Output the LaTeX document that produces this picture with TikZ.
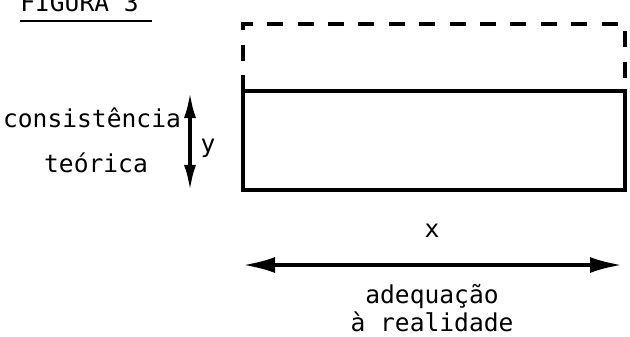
\documentclass[tikz,border=0pt]{standalone}
\usepackage{fontspec}
\setmonofont{DejaVu Sans Mono}
\usetikzlibrary{arrows.meta,positioning}

\begin{document}
\begin{tikzpicture}[x=0.025cm,y=-0.025cm,
  lbl/.style={font=\ttfamily\fontsize{17.5}{22}\selectfont,inner sep=0pt},
  frame/.style={line width=2.6pt},
  dim/.style={line width=2.6pt,{Latex[length=0.8cm,width=0.4cm]}-{Latex[length=0.8cm,width=0.4cm]}}]
\useasboundingbox (0,0) rectangle (630,336);
% title
\node[lbl,anchor=base west] (fig) at (20,11) {FIGURA 3};
\draw[line width=2pt] (20,21) -- (152,21);
% rectangles
\draw[frame,dash pattern=on 0.4cm off 0.36cm] (243,91) -- (243,24) -- (625,24) -- (625,91);
\draw[frame] (243,91) rectangle (625,190);
% y dimension
\coordinate (ytop) at (190,92);
\coordinate (ybot) at (190,191);
\draw[dim,{Latex[length=0.65cm,width=0.3cm]}-{Latex[length=0.65cm,width=0.3cm]}] (ytop) -- (ybot);
\node[lbl] (cons) at (92,118) {consistência};
\node[lbl] (teor) at (96,163) {teórica};
\node[lbl] (ylab) at (208,148) {y};
% x dimension
\coordinate (xl) at (243,265);
\coordinate (xr) at (622,265);
\draw[dim] (xl) -- (xr);
\node[lbl] (xlab) at (432,231) {x};
\node[lbl] (adeq) at (432,297) {adequação};
\node[lbl] (real) at (432,322) {à realidade};
\end{tikzpicture}
\end{document}
